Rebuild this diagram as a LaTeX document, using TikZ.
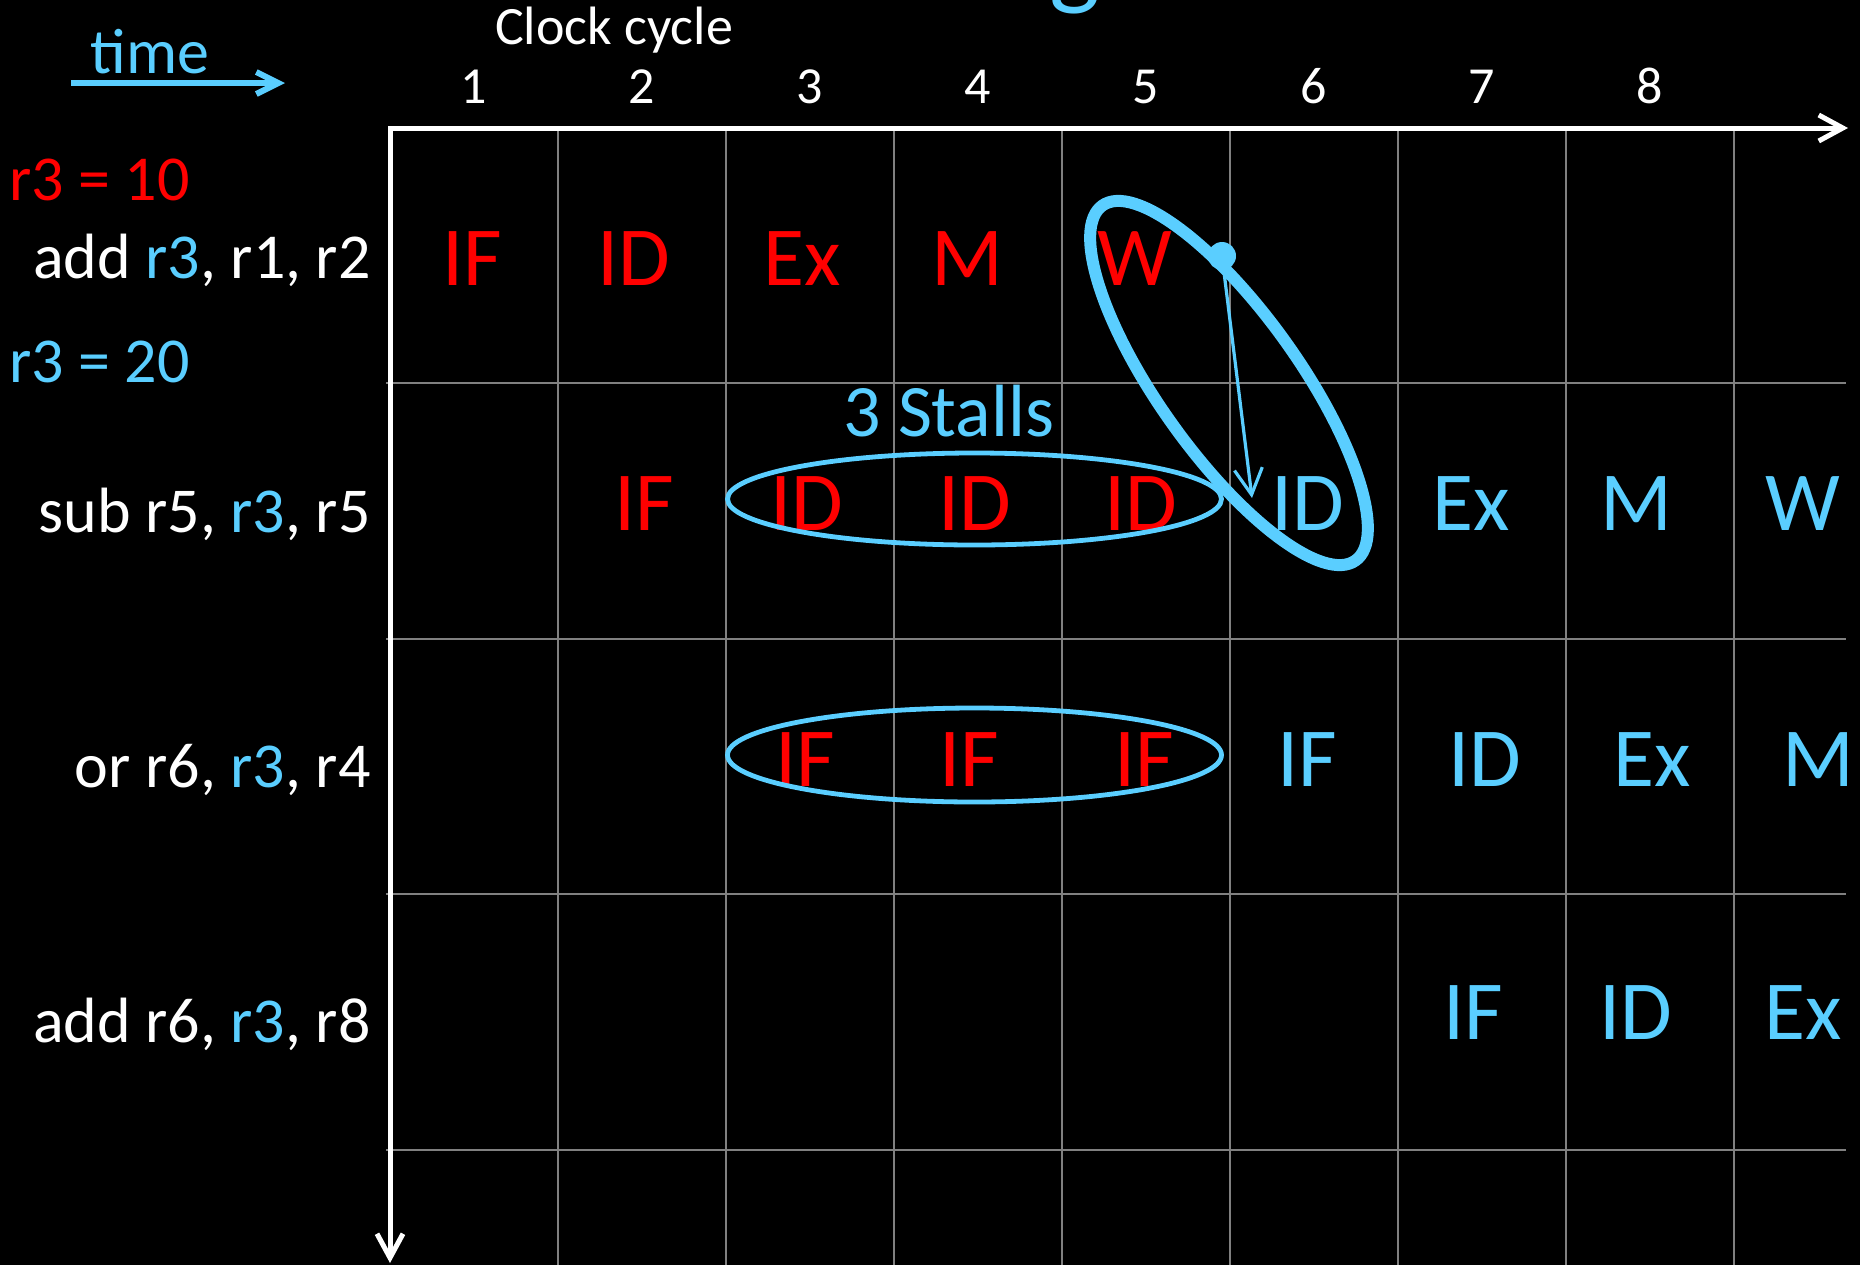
\documentclass[tikz,border=0pt]{standalone}
\usepackage{fontspec}
\setmainfont{Carlito}
\usetikzlibrary{arrows.meta}
\definecolor{cb}{HTML}{5ACEFF}
\definecolor{rd}{HTML}{FF0000}
\definecolor{gridg}{HTML}{808080}
\newcommand\fsz[1]{\fontsize{#1}{#1}\selectfont}
\begin{document}
\begin{tikzpicture}[x=0.5pt,y=-0.5pt,
  stage/.style={font=\fsz{42pt},anchor=base,inner sep=0pt},
  rs/.style={stage,text=rd},
  bs/.style={stage,text=cb},
  instr/.style={font=\fsz{32pt},anchor=base east,inner sep=0pt,text=white},
  regval/.style={font=\fsz{32pt},anchor=base west,inner sep=0pt},
  num/.style={font=\fsz{26pt},anchor=base,inner sep=0pt,text=white},
  gridline/.style={draw=gridg,line width=1.2pt},
  axis/.style={draw=white,line width=2.5pt,line join=miter},
  stallell/.style={draw=cb,line width=2.4pt},
  bigell/.style={draw=cb,line width=6pt}]
\fill[black] (0,0) rectangle (1860,1265);
\clip (0,0) rectangle (1860,1265);
% grid
\foreach \x in {558,726,...,1734} \draw[gridline] (\x,128) -- (\x,1265);
\foreach \y in {383,639,894,1150} \draw[gridline] (386,\y) -- (1846,\y);
% axes
\coordinate (O) at (390,128);
\coordinate (XE) at (1848,128);
\coordinate (YE) at (390,1263);
\draw[axis,{Straight Barb[length=12pt,width=13pt]}-{Straight Barb[length=12pt,width=13pt]}] (YE) -- (O) -- (XE);
% title (cut off by the top edge, as in the reference)
\node[font=\fsz{54pt},text=cb,anchor=base west,inner sep=0pt] (title) at (782,-5) {Stalling};
% header
\node[font=\fsz{27pt},text=white,anchor=base,inner sep=0pt] (clk) at (614,44) {Clock cycle};
\foreach \i in {1,...,8} \node[num] (n\i) at ({474+168*(\i-1)},103) {\i};
\node[font=\fsz{32pt},text=cb,anchor=base,inner sep=0pt] (time) at (150,73) {time};
\coordinate (ts) at (71,83);
\coordinate (te) at (285,83);
\draw[cb,line width=3pt,-{Straight Barb[length=11pt,width=11pt]}] (ts) -- (te);
% left labels
\node[regval,text=rd] (r10) at (9,200) {r3 = 10};
\node[regval,text=cb] (r20) at (9,382) {r3 = 20};
\node[instr] (i1) at (371,278) {add \textcolor{cb}{r3}, r1, r2};
\node[instr] (i2) at (371,532) {sub r5, \textcolor{cb}{r3}, r5};
\node[instr] (i3) at (371,787) {or r6, \textcolor{cb}{r3}, r4};
\node[instr] (i4) at (371,1042) {add r6, \textcolor{cb}{r3}, r8};
% row 1
\node[rs] (a1) at (472,285) {IF};
\node[rs] (a2) at (634,285) {ID};
\node[rs] (a3) at (802,285) {Ex};
\node[rs] (a4) at (967,285) {M};
\node[rs] (a5) at (1135,285) {W};
% row 2
\node[rs] (b2) at (644,530) {IF};
\node[rs] (b3) at (807,530) {ID};
\node[rs] (b4) at (975,530) {ID};
\node[rs] (b5) at (1141,530) {ID};
\node[bs] (b6) at (1308,530) {ID};
\node[bs] (b7) at (1471,530) {Ex};
\node[bs] (b8) at (1636,530) {M};
\node[bs] (b9) at (1803,530) {W};
% row 3
\node[rs] (c3) at (805,786) {IF};
\node[rs] (c4) at (969,786) {IF};
\node[rs] (c5) at (1144,786) {IF};
\node[bs] (c6) at (1307,786) {IF};
\node[bs] (c7) at (1485,786) {ID};
\node[bs] (c8) at (1652,786) {Ex};
\node[bs] (c9) at (1818,786) {M};
% row 4
\node[bs] (d7) at (1473,1039) {IF};
\node[bs] (d8) at (1636,1039) {ID};
\node[bs] (d9) at (1803,1039) {Ex};
% stalls
\node[font=\fsz{37pt},text=cb,anchor=base,inner sep=0pt] (stalls) at (949,436) {3 Stalls};
\draw[stallell] (974.5,499) ellipse [x radius=247, y radius=46];
\draw[stallell] (974.5,755) ellipse [x radius=247, y radius=47];
\draw[bigell,rotate around={-54.5:(1229,383)}] (1229,383) ellipse [x radius=218, y radius=70];
\node[circle,fill=cb,minimum size=14pt,inner sep=0pt] (dot) at (1222,256) {};
\coordinate (tip) at (1252,498);
\draw[cb,line width=1.6pt,-{Straight Barb[length=13pt,width=14pt]}] (dot) -- (tip);
\end{tikzpicture}
\end{document}
